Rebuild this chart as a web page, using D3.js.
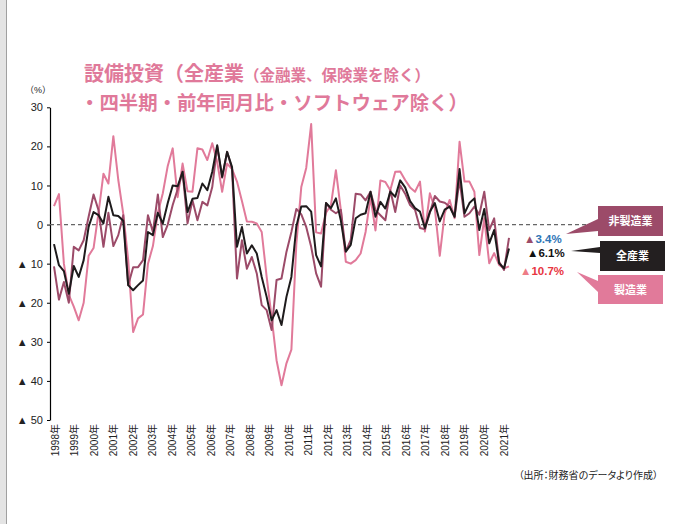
<!DOCTYPE html>
<html>
<head>
<meta charset="utf-8">
<script src="https://cdn.jsdelivr.net/npm/d3@7"></script>
<style>
	body { margin: 0; background: #fff; }
	svg { display: block; font-family: "Liberation Sans", "Noto Sans CJK JP", sans-serif; }
	.title { font-family: "Noto Sans CJK JP", sans-serif; font-weight: 700; }
</style>
</head>
<body>
<div id="chart"></div>
<script>
/*
	Capex chart: quarterly YoY, 1998Q1 - 2021Q1
*/

// Year tick labels
const years = d3.range(1998, 2022).map(d => d + "年");

// Y ticks
const yTicks = [30, 20, 10, 0, -10, -20, -30, -40, -50];

// Series names (legend order)
const seriesNames = ["非製造業", "全産業", "製造業"];

// 全産業
const allIndustry = [
	-5, -10.4, -11.9, -17.7, -10.6, -13.4, -9.1, -0.6, 3.2, 2.4,
	0.3, 7.1, 2.4, 2.2, 1, -15.5, -16.8, -15.5, -14.3, -1.9,
	-2.7, 3, 0.3, 5.5, 10, 9.8, 13.5, 3.2, 6.6, 6.8,
	10.5, 8.8, 13.5, 20.3, 12.2, 18.6, 14.7, -5.7, -0.6, -7.4,
	-5.3, -7.4, -13.4, -18.5, -24.5, -21.9, -25.7, -18.5, -13.4, -0.5,
	4.6, 4.7, 3.3, -7.8, -10.7, 5.5, 4.2, 6.7, 1, -6.9,
	-5.2, 1.6, 2.5, 2.9, 8.4, 2, 5.8, 4.1, 8.4, 7.1,
	11.3, 9.5, 6, 4.2, 3.3, -0.9, 3.3, 5.5, 0.8, 3.8,
	4.6, 2, 14.2, 2.9, 5.5, 6.7, -1.4, 4, -4.8, -1.4,
	-9.9, -11.2, -6.1
];

// 製造業
const manufacturing = [
	4.7, 7.8, -10, -18, -21, -24.5, -20, -8, -6, 3,
	13, 10.5, 22.6, 11.4, 2.8, -9, -27.5, -24, -23, -10,
	-5.5, 3, 8, 15, 19.5, 7, 15.6, 8.5, 8.4, 19.5,
	19.2, 16.5, 20.8, 16, 8.4, 15.6, 14.2, 11, 6, 0.8,
	0.7, 0.3, -1.9, -13.4, -23.6, -34.7, -41.1, -35.5, -32, -5,
	9.6, 14.5, 25.7, -2, -2.3, 3, 5, 13.9, 3.7, -9.5,
	-10, -9.1, -7.4, -1.9, 7, -1.5, 11.3, 10.9, 8.8, 13.5,
	13.6, 11.4, 9.5, 8.4, 11, -1.8, 8, 4.2, -8, 2.9,
	6.3, 1.6, 21.2, 11, 11, 8.4, -7.8, 1.6, -9.9, -7.3,
	-10.3, -11.2, -10.7
];

// 非製造業
const nonManufacturing = [
	-10.7, -19.2, -14.7, -20, -5.7, -6.6, -4, 2, 7.7, 3.7,
	-5.7, 3, -5.5, -2.7, 2.4, -15.5, -10.9, -10.9, -9.1, 2.4,
	-1.9, 7.7, -3.2, 0, 5, 9, 13.5, 0.3, 6.2, 1.1,
	5.8, 4.9, 9.6, 20, 12, 18.6, 14.3, -13.8, -4, -11.3,
	-8.3, -12.5, -20.6, -21.9, -27, -14.2, -13.8, -7, -1.9, 4,
	2.6, -0.6, -5.7, -12.5, -15.9, 5.5, 3.8, 2.9, 3.8, -6.9,
	-3.9, 7.9, 7.7, 6.2, 8.4, 3.7, 2.4, 1.1, 8.8, 3.2,
	10, 7.9, 5, 3.8, -0.9, -1.2, 3, 7.3, 5.9, 5.6,
	4.6, 2, 11.4, 2, 2.9, 4.6, 2.5, 8.4, -1.4, 1.6,
	-9.5, -11.6, -3.4
];

const width = 674, height = 524;
const colors = {non: "#9c4b69", all: "#1e1b1c", mfg: "#e17a9a"};

const svg = d3.select("#chart").append("svg")
	.attr("width", width)
	.attr("height", height);

svg.append("rect").attr("width", width).attr("height", height).attr("fill", "#fff");

// Left page edge
svg.append("rect").attr("x", 0).attr("y", 0).attr("width", 6).attr("height", height).attr("fill", "#e4e4e4");
svg.append("line").attr("x1", 6.5).attr("x2", 6.5).attr("y1", 0).attr("y2", height)
	.attr("stroke", "#a0a0a0").attr("stroke-width", 1);

// Scales
const x = d3.scaleLinear().domain([0, allIndustry.length - 1]).range([54, 509]);
const xYear = d3.scalePoint().domain(years).range([55, 504]);
const y = d3.scaleLinear().domain([-50, 30]).range([420, 107.3]);

// Title
const title = svg.append("g").attr("class", "title").attr("fill", "#e0799a");
const t1 = title.append("text").attr("x", 84).attr("y", 81);
t1.append("tspan").attr("font-size", 20).text("設備投資（全産業");
t1.append("tspan").attr("font-size", 15.5).text("（金融業、保険業を除く）");
title.append("text").attr("x", 80).attr("y", 110).attr("font-size", 19.4)
	.text("・四半期・前年同月比・ソフトウェア除く）");

// Unit label
svg.append("text").attr("x", 38).attr("y", 93).attr("text-anchor", "middle")
	.attr("font-size", 9).attr("fill", "#222").text("（%）");

// Y axis
const yAxis = svg.append("g")
	.attr("transform", "translate(50,0)")
	.call(d3.axisLeft(y).tickValues(yTicks).tickSize(3).tickSizeOuter(0)
		.tickFormat(d => d < 0 ? "▲ " + Math.abs(d) : d));
yAxis.select(".domain").attr("stroke", "#000").attr("stroke-width", 1.2);
yAxis.selectAll(".tick line").attr("stroke", "#000");
yAxis.selectAll(".tick text").attr("font-size", 11).attr("fill", "#222").attr("x", -7);

// Zero line
svg.append("line")
	.attr("x1", 50).attr("x2", 597)
	.attr("y1", y(0)).attr("y2", y(0))
	.attr("stroke", "#666").attr("stroke-width", 1.2).attr("stroke-dasharray", "4,3");

// X labels
svg.append("g").selectAll("text")
	.data(years).enter().append("text")
	.attr("transform", d => "translate(" + (xYear(d) + 3.5) + ",424) rotate(-90)")
	.attr("text-anchor", "end")
	.attr("font-size", 10)
	.attr("fill", "#222")
	.text(d => d);

// Lines
const line = d3.line().x((d, i) => x(i)).y(d => y(d));
const series = [
	{key: "mfg", values: manufacturing},
	{key: "non", values: nonManufacturing},
	{key: "all", values: allIndustry}
];
svg.append("g").selectAll("path")
	.data(series).enter().append("path")
	.attr("d", d => line(d.values))
	.attr("fill", "none")
	.attr("stroke", d => colors[d.key])
	.attr("stroke-width", 2)
	.attr("stroke-linejoin", "round");

// Latest value labels
const fmt = v => Math.abs(v).toFixed(1) + "%";
const last = arr => arr[arr.length - 1];
const latest = [
	{v: last(nonManufacturing), x: 524, y: 243, tri: colors.non, col: "#2e75b6"},
	{v: last(allIndustry), x: 527, y: 257, tri: "#111", col: "#111"},
	{v: last(manufacturing), x: 520, y: 275, tri: "#ee7c86", col: "#e8353f"}
];
latest.forEach(d => {
	const t = svg.append("text").attr("x", d.x).attr("y", d.y)
		.attr("font-size", 11.5).attr("font-weight", 700);
	t.append("tspan").attr("fill", d.tri).text("▲");
	t.append("tspan").attr("fill", d.col).text(fmt(d.v));
});

// Legend callout boxes
const boxes = [
	{name: seriesNames[0], fill: colors.non, x: 598, y: 206, w: 65, h: 30, ptr: [[598, 219], [566, 234], [598, 231]]},
	{name: seriesNames[1], fill: "#231f20", x: 600, y: 241, w: 65, h: 30, ptr: [[600, 247], [571, 251], [600, 253]]},
	{name: seriesNames[2], fill: colors.mfg, x: 598, y: 275, w: 65, h: 29, ptr: [[598, 281], [577, 272], [598, 292]]}
];
const lg = svg.append("g");
boxes.forEach(b => {
	lg.append("polygon").attr("points", b.ptr.map(p => p.join(",")).join(" ")).attr("fill", b.fill);
	lg.append("rect").attr("x", b.x).attr("y", b.y).attr("width", b.w).attr("height", b.h).attr("fill", b.fill);
	lg.append("text").attr("x", b.x + b.w / 2).attr("y", b.y + b.h / 2 + 4)
		.attr("text-anchor", "middle").attr("font-size", 11).attr("font-weight", 700)
		.attr("fill", "#fff").style("font-family", "'Noto Sans CJK JP'")
		.text(b.name);
});

// Source
svg.append("text").attr("x", 658).attr("y", 479).attr("text-anchor", "end")
	.attr("font-size", 10).attr("fill", "#222")
	.style("font-feature-settings", "'palt'")
	.text("（出所：財務省のデータより作成）");
</script>
</body>
</html>
